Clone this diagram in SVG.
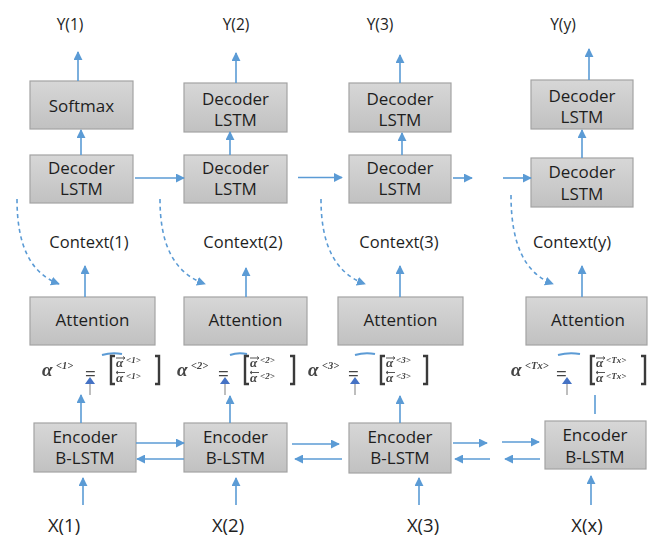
<svg xmlns="http://www.w3.org/2000/svg" width="648" height="538" viewBox="0 0 648 538">
  <style>
    .box { fill: url(#boxFill); stroke: #a3a3a3; stroke-width: 1.2; }
    .lbl { font-family: "Open Sans", "Liberation Sans", sans-serif; fill: #1e1e1e; text-anchor: middle; }
    .in  { font-size: 17px; }
    .io  { font-size: 15.5px; }
    .ctx { font-size: 16.5px; }
    .xl  { font-size: 18.5px; }
    .wire { fill: none; stroke: #5b9bd5; stroke-width: 1.6; }
    .arr { marker-end: url(#head); }
    .dash { fill: none; stroke: #5b9bd5; stroke-width: 1.6; stroke-dasharray: 4 3.5; marker-end: url(#head); }
    .eq { font-family: "Liberation Serif", "DejaVu Serif", serif; font-style: italic; font-weight: bold; fill: #444; }
    .eqa { font-size: 19px; }
    .eqr { font-size: 13px; }
    .eqs { font-size: 10.5px; }
    .eqt { font-size: 9px; }
    .brk { fill: none; stroke: #3a3a3a; stroke-width: 2.4; }
    .eqeq { font-family: "Liberation Serif", serif; font-size: 19px; font-weight: bold; fill: #444; }
    .vec { fill: none; stroke: #555; stroke-width: 1; }
    .frag { fill: none; stroke: #5b9bd5; stroke-width: 2; }
    .stem { stroke: #a8a8a8; stroke-width: 1.5; }
    .tip { fill: #4472c4; }
  </style>
  <defs>
    <linearGradient id="boxFill" x1="0" y1="0" x2="0" y2="1">
      <stop offset="0" stop-color="#d7d7d7"/>
      <stop offset="1" stop-color="#c1c1c1"/>
    </linearGradient>
    <marker id="head" viewBox="0 0 10 10" refX="9" refY="5" markerWidth="9" markerHeight="9" markerUnits="userSpaceOnUse" orient="auto">
      <path d="M0,0 L10,5 L0,10 z" fill="#5b9bd5"/>
    </marker>
    <filter id="soft" x="-10%" y="-20%" width="120%" height="140%">
      <feGaussianBlur stdDeviation="0.4"/>
    </filter>
  </defs>

  <!-- output labels -->
  <g id="outputs">
    <text class="lbl io" x="70" y="30">Y(1)</text>
    <text class="lbl io" x="236" y="30">Y(2)</text>
    <text class="lbl io" x="380" y="30">Y(3)</text>
    <text class="lbl io" x="563" y="30">Y(y)</text>
  </g>

  <!-- decoder column 1 -->
  <g id="softmax">
    <rect class="box" x="30" y="81" width="103" height="48"/>
    <text class="lbl in" x="81.5" y="112">Softmax</text>
  </g>
  <g id="decoder1">
    <rect class="box" x="30" y="155" width="103" height="48"/>
    <text class="lbl in" x="81.5" y="174">Decoder</text>
    <text class="lbl in" x="81.5" y="195">LSTM</text>
  </g>

  <!-- decoder column 2 -->
  <g id="decoder2-top">
    <rect class="box" x="184" y="83" width="103" height="49"/>
    <text class="lbl in" x="235.5" y="105">Decoder</text>
    <text class="lbl in" x="235.5" y="126">LSTM</text>
  </g>
  <g id="decoder2">
    <rect class="box" x="184" y="155" width="103" height="48"/>
    <text class="lbl in" x="235.5" y="174">Decoder</text>
    <text class="lbl in" x="235.5" y="195">LSTM</text>
  </g>

  <!-- decoder column 3 -->
  <g id="decoder3-top">
    <rect class="box" x="349" y="83" width="102" height="49"/>
    <text class="lbl in" x="400" y="105">Decoder</text>
    <text class="lbl in" x="400" y="126">LSTM</text>
  </g>
  <g id="decoder3">
    <rect class="box" x="349" y="155" width="102" height="48"/>
    <text class="lbl in" x="400" y="174">Decoder</text>
    <text class="lbl in" x="400" y="195">LSTM</text>
  </g>

  <!-- decoder column y -->
  <g id="decodery-top">
    <rect class="box" x="531" y="80" width="102" height="49"/>
    <text class="lbl in" x="582" y="102">Decoder</text>
    <text class="lbl in" x="582" y="123">LSTM</text>
  </g>
  <g id="decodery">
    <rect class="box" x="531" y="158" width="102" height="49"/>
    <text class="lbl in" x="582" y="178">Decoder</text>
    <text class="lbl in" x="582" y="200">LSTM</text>
  </g>

  <!-- context labels -->
  <g id="contexts">
    <text class="lbl ctx" x="89" y="248">Context(1)</text>
    <text class="lbl ctx" x="243" y="248">Context(2)</text>
    <text class="lbl ctx" x="399" y="248">Context(3)</text>
    <text class="lbl ctx" x="572" y="248">Context(y)</text>
  </g>

  <!-- attention blocks -->
  <g id="attention1">
    <rect class="box" x="30" y="297" width="125" height="48"/>
    <text class="lbl in" x="92.5" y="326">Attention</text>
  </g>
  <g id="attention2">
    <rect class="box" x="184" y="297" width="123" height="48"/>
    <text class="lbl in" x="245.5" y="326">Attention</text>
  </g>
  <g id="attention3">
    <rect class="box" x="338" y="297" width="125" height="48"/>
    <text class="lbl in" x="400.5" y="326">Attention</text>
  </g>
  <g id="attentiony">
    <rect class="box" x="526" y="297" width="121" height="48"/>
    <text class="lbl in" x="588" y="326">Attention</text>
  </g>

  <!-- concatenated activations a<t> = [forward; backward] -->
  <g id="equations" filter="url(#soft)">
    <g id="eq1">
      <path class="frag" d="M102,355 Q112,352 122,354"/>
      <text class="eq eqa" x="42" y="376">α</text><text class="eq eqs" x="56" y="369">&lt;1&gt;</text>
      <text class="eqeq" x="85" y="380">=</text>
      <path class="brk" d="M115,356 H111 V384 H115"/>
      <text class="eq eqr" x="116" y="367">α</text><text class="eq eqt" x="126" y="363">&lt;1&gt;</text>
      <path class="vec" d="M116,358 H125 M123,356.5 L125,358 L123,359.5"/>
      <text class="eq eqr" x="116" y="382">α</text><text class="eq eqt" x="126" y="379">&lt;1&gt;</text>
      <path class="vec" d="M116,372.5 H125 M118,371 L116,372.5 L118,374"/>
      <path class="brk" d="M155,356 H159 V384 H155"/>
      <line class="stem" x1="90" y1="384" x2="90" y2="395"/>
      <path class="tip" d="M90,377 L95,384 L85,384 z"/>
    </g>
    <g id="eq2">
      <path class="frag" d="M230,355 Q238,352 247,354"/>
      <text class="eq eqa" x="177" y="376">α</text><text class="eq eqs" x="191" y="369">&lt;2&gt;</text>
      <text class="eqeq" x="218" y="380">=</text>
      <path class="brk" d="M249,356 H245 V384 H249"/>
      <text class="eq eqr" x="250" y="367">α</text><text class="eq eqt" x="260" y="363">&lt;2&gt;</text>
      <path class="vec" d="M250,358 H259 M257,356.5 L259,358 L257,359.5"/>
      <text class="eq eqr" x="250" y="382">α</text><text class="eq eqt" x="260" y="379">&lt;2&gt;</text>
      <path class="vec" d="M250,372.5 H259 M252,371 L250,372.5 L252,374"/>
      <path class="brk" d="M290,356 H294 V384 H290"/>
      <line class="stem" x1="225" y1="384" x2="225" y2="395"/>
      <path class="tip" d="M225,377 L230,384 L220,384 z"/>
    </g>
    <g id="eq3">
      <path class="frag" d="M355,355 Q365,352 375,354"/>
      <text class="eq eqa" x="308" y="376">α</text><text class="eq eqs" x="322" y="369">&lt;3&gt;</text>
      <text class="eqeq" x="348" y="380">=</text>
      <path class="brk" d="M385,356 H381 V384 H385"/>
      <text class="eq eqr" x="386" y="367">α</text><text class="eq eqt" x="396" y="363">&lt;3&gt;</text>
      <path class="vec" d="M386,358 H395 M393,356.5 L395,358 L393,359.5"/>
      <text class="eq eqr" x="386" y="382">α</text><text class="eq eqt" x="396" y="379">&lt;3&gt;</text>
      <path class="vec" d="M386,372.5 H395 M388,371 L386,372.5 L388,374"/>
      <path class="brk" d="M423,356 H427 V384 H423"/>
      <line class="stem" x1="355" y1="384" x2="355" y2="395"/>
      <path class="tip" d="M355,377 L360,384 L350,384 z"/>
    </g>
    <g id="eqy">
      <path class="frag" d="M558,355 Q569,352 580,354"/>
      <text class="eq eqa" x="511" y="376">α</text><text class="eq eqs" x="525" y="369">&lt;Tx&gt;</text>
      <text class="eqeq" x="556" y="380">=</text>
      <path class="brk" d="M595,356 H591 V384 H595"/>
      <text class="eq eqr" x="596" y="367">α</text><text class="eq eqt" x="606" y="363">&lt;Tx&gt;</text>
      <path class="vec" d="M596,358 H605 M603,356.5 L605,358 L603,359.5"/>
      <text class="eq eqr" x="596" y="382">α</text><text class="eq eqt" x="606" y="379">&lt;Tx&gt;</text>
      <path class="vec" d="M596,372.5 H605 M598,371 L596,372.5 L598,374"/>
      <path class="brk" d="M641,356 H645 V384 H641"/>
      <line class="stem" x1="567" y1="384" x2="567" y2="395"/>
      <path class="tip" d="M567,377 L572,384 L562,384 z"/>
    </g>
  </g>

  <!-- encoder blocks -->
  <g id="encoder1">
    <rect class="box" x="34" y="423" width="102" height="49"/>
    <text class="lbl in" x="85" y="443">Encoder</text>
    <text class="lbl in" x="85" y="464">B-LSTM</text>
  </g>
  <g id="encoder2">
    <rect class="box" x="184" y="423" width="103" height="49"/>
    <text class="lbl in" x="235.5" y="443">Encoder</text>
    <text class="lbl in" x="235.5" y="464">B-LSTM</text>
  </g>
  <g id="encoder3">
    <rect class="box" x="349" y="423" width="102" height="50"/>
    <text class="lbl in" x="400" y="443">Encoder</text>
    <text class="lbl in" x="400" y="464">B-LSTM</text>
  </g>
  <g id="encoderx">
    <rect class="box" x="545" y="421" width="101" height="48"/>
    <text class="lbl in" x="595" y="441">Encoder</text>
    <text class="lbl in" x="595" y="463">B-LSTM</text>
  </g>

  <!-- input labels -->
  <g id="inputs">
    <text class="lbl xl" x="64" y="532">X(1)</text>
    <text class="lbl xl" x="228" y="532">X(2)</text>
    <text class="lbl xl" x="423" y="532">X(3)</text>
    <text class="lbl xl" x="587" y="532">X(x)</text>
  </g>

  <!-- connectors -->
  <g id="connectors">
    <!-- decoder outputs -->
    <line class="wire arr" x1="78" y1="81" x2="78" y2="52"/>
    <line class="wire arr" x1="81" y1="155" x2="81" y2="130"/>
    <line class="wire arr" x1="236" y1="83" x2="236" y2="53"/>
    <line class="wire arr" x1="230" y1="155" x2="230" y2="132"/>
    <line class="wire arr" x1="400" y1="83" x2="400" y2="55"/>
    <line class="wire arr" x1="402" y1="155" x2="402" y2="133"/>
    <line class="wire arr" x1="589" y1="80" x2="589" y2="49"/>
    <line class="wire arr" x1="582" y1="158" x2="582" y2="130"/>

    <!-- decoder state chain -->
    <line class="wire arr" x1="135" y1="178" x2="184" y2="178"/>
    <line class="wire arr" x1="298" y1="177.5" x2="342" y2="177.5"/>
    <line class="wire arr" x1="453" y1="178" x2="472" y2="178"/>
    <line class="wire arr" x1="503" y1="178" x2="531" y2="178"/>

    <!-- decoder state fed to attention -->
    <path class="dash" d="M17,199 C17,245 30,273 59,284"/>
    <path class="dash" d="M160,199 C160,245 174,273 205,284"/>
    <path class="dash" d="M321,199 C321,245 335,273 365,284"/>
    <path class="dash" d="M511,195 C511,243 524,273 553,284"/>

    <!-- attention to context -->
    <line class="wire arr" x1="85" y1="297" x2="85" y2="266"/>
    <line class="wire arr" x1="246" y1="297" x2="246" y2="268"/>
    <line class="wire arr" x1="400" y1="297" x2="400" y2="266"/>
    <line class="wire arr" x1="582" y1="297" x2="582" y2="266"/>

    <!-- encoder to activations -->
    <line class="wire arr" x1="81" y1="423" x2="81" y2="395"/>
    <line class="wire arr" x1="230" y1="423" x2="230" y2="396"/>
    <line class="wire arr" x1="400" y1="423" x2="400" y2="396"/>
    <line class="wire" x1="595" y1="395" x2="595" y2="414"/>

    <!-- bidirectional encoder chain -->
    <line class="wire arr" x1="136" y1="443" x2="184" y2="443"/>
    <line class="wire arr" x1="184" y1="459" x2="137" y2="459"/>
    <line class="wire arr" x1="292" y1="444" x2="339" y2="444"/>
    <line class="wire arr" x1="342" y1="459" x2="295" y2="459"/>
    <line class="wire arr" x1="453" y1="443" x2="487" y2="443"/>
    <line class="wire arr" x1="490" y1="459" x2="455" y2="459"/>
    <line class="wire arr" x1="502" y1="442" x2="539" y2="442"/>
    <line class="wire arr" x1="540" y1="459" x2="505" y2="459"/>

    <!-- inputs to encoder -->
    <line class="wire arr" x1="83" y1="505" x2="83" y2="478"/>
    <line class="wire arr" x1="236" y1="505" x2="236" y2="478"/>
    <line class="wire arr" x1="419" y1="505" x2="419" y2="478"/>
    <line class="wire arr" x1="591" y1="505" x2="591" y2="476"/>
  </g>
</svg>
